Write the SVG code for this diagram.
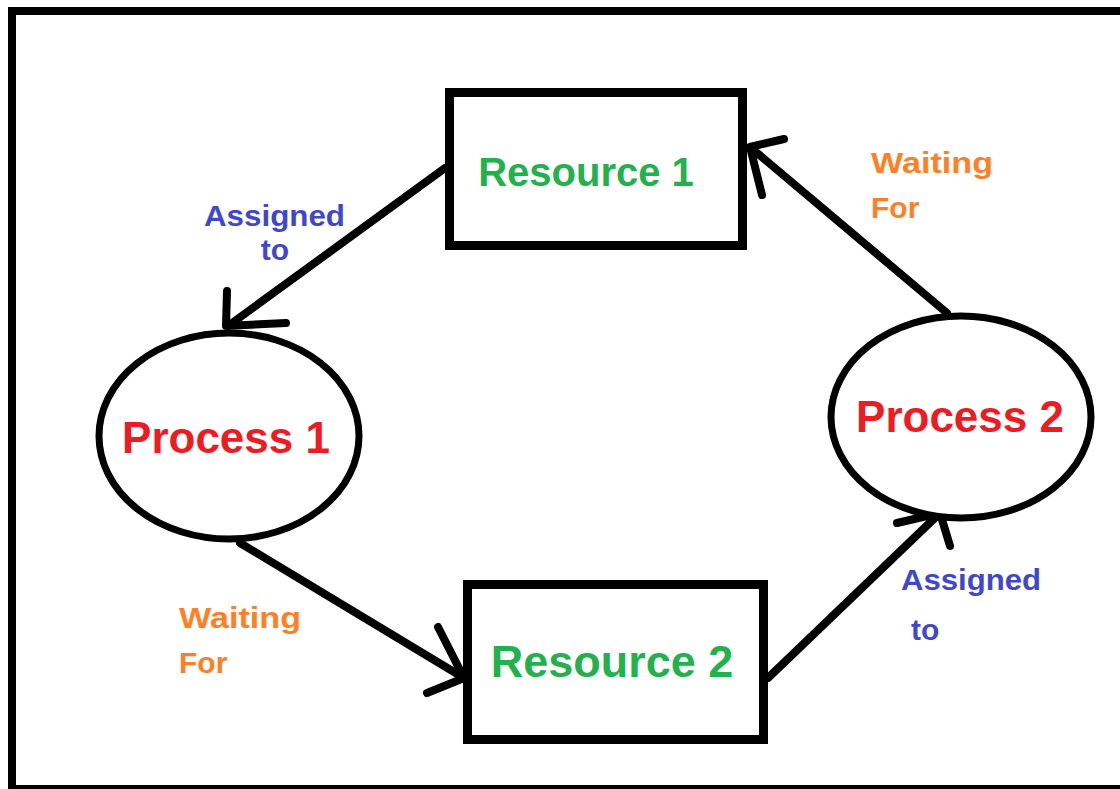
<svg xmlns="http://www.w3.org/2000/svg" width="1120" height="789" viewBox="0 0 1120 789">
<style>
.frame{fill:#000}
.box{fill:#fff;stroke:#000;stroke-width:9}
.proc{fill:#fff;stroke:#000;stroke-width:7}
.conn{fill:none;stroke:#000;stroke-width:8;stroke-linecap:round;stroke-linejoin:round}
text{font-family:"Liberation Sans",Arial,sans-serif;font-weight:bold}
.res{fill:#22b14c}
.pn{fill:#ed1c24}
.asg{fill:#3f48cc;font-size:30px}
.wait{fill:#ff7f27;font-size:30px}
</style>
<rect x="0" y="0" width="1120" height="789" fill="#fff"/>
<g id="frame">
<rect class="frame" x="8" y="7" width="1112" height="8"/>
<rect class="frame" x="8" y="7" width="8" height="782"/>
<rect class="frame" x="8" y="785" width="1112" height="4"/>
</g>
<g id="connectors">
<path class="conn" d="M445,168 L228,326 M227,291 L226,326 L286,323"/>
<path class="conn" d="M947,313 L750,147 M784,139 L750,147 L762,195"/>
<path class="conn" d="M240,543 L464,678 M438,627 L464,678 L427,693"/>
<path class="conn" d="M768,678 L940,513 M897,523 L940,513 L950,546"/>
</g>
<g id="resource1">
<rect class="box" x="449.500" y="92.500" width="293" height="153"/>
<text class="res" x="586" y="186" font-size="40" text-anchor="middle">Resource 1</text>
</g>
<g id="resource2">
<rect class="box" x="467.500" y="584.500" width="296" height="155"/>
<text class="res" x="612" y="677" font-size="45" text-anchor="middle">Resource 2</text>
</g>
<g id="process1">
<ellipse class="proc" cx="229" cy="436" rx="130" ry="103"/>
<text class="pn" x="226" y="453" font-size="44" text-anchor="middle">Process 1</text>
</g>
<g id="process2">
<ellipse class="proc" cx="961" cy="417" rx="130" ry="101"/>
<text class="pn" x="960" y="432" font-size="44" text-anchor="middle">Process 2</text>
</g>
<g id="labels">
<text class="asg" x="204" y="226" textLength="141" lengthAdjust="spacingAndGlyphs">Assigned</text>
<text class="asg" x="275" y="260" text-anchor="middle">to</text>
<text class="wait" x="871" y="173" textLength="122" lengthAdjust="spacingAndGlyphs">Waiting</text>
<text class="wait" x="871" y="218">For</text>
<text class="wait" x="179" y="628" textLength="122" lengthAdjust="spacingAndGlyphs">Waiting</text>
<text class="wait" x="179" y="673">For</text>
<text class="asg" x="901" y="590" textLength="140" lengthAdjust="spacingAndGlyphs">Assigned</text>
<text class="asg" x="911" y="640">to</text>
</g>
</svg>
